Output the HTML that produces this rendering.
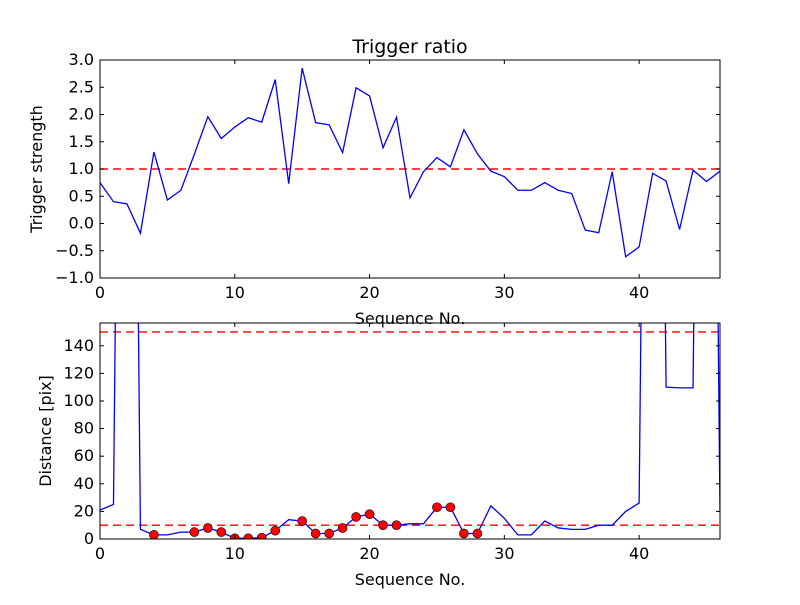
<!DOCTYPE html>
<html><head><meta charset="utf-8"><style>
body{margin:0;background:#fff}
svg text{font-family:"DejaVu Sans","Liberation Sans",sans-serif;font-size:16px;fill:#000}
</style></head><body>
<svg id="c" width="800" height="600" viewBox="0 0 800 600">
<rect width="800" height="600" fill="#fff"/>
</svg>
<script>
const topValues=[0.75,0.4,0.36,-0.18,1.31,0.43,0.61,1.27,1.96,1.56,1.77,1.94,1.86,2.64,0.73,2.85,1.85,1.81,1.3,2.49,2.34,1.39,1.95,0.47,0.95,1.21,1.04,1.72,1.28,0.96,0.86,0.61,0.61,0.75,0.61,0.55,-0.12,-0.17,0.95,-0.61,-0.43,0.92,0.78,-0.11,0.98,0.77,0.96];
const botValues=[21,25,1000,7,3,3,5,5,8,5,0.5,0.5,1,6,14,13,4,4,8,16,18,10,10,11,11,23,23,4,4,24,15,3,3,13,8,7,7,10,10,20,26,1000,110,109.5,109.5,1000,20];
const markerIdx=[4,7,8,9,10,11,12,13,15,16,17,18,19,20,21,22,25,26,27,28];
const topTicks=[-1.0,-0.5,0.0,0.5,1.0,1.5,2.0,2.5,3.0];
const botTicks=[0,20,40,60,80,100,120,140];
const xTicks=[0,10,20,30,40];
const topThreshold=[1.0];
const botThresholds=[10,150];
const NS="http://www.w3.org/2000/svg";
const svg=document.getElementById('c');
const L=100,R=720;
const xs=v=>L+(v-0)/46*(R-L);
function el(t,a){const e=document.createElementNS(NS,t);for(const k in a)e.setAttribute(k,a[k]);svg.appendChild(e);return e;}
function panel(name,T,B,ymin,ymax,ticks,fmt,vals,thr,ylabel,title,ylx){
  const ys=v=>B-(v-ymin)/(ymax-ymin)*(B-T);
  const cp=el('clipPath',{id:'cp'+name});
  const r=document.createElementNS(NS,'rect');r.setAttribute('x',L);r.setAttribute('y',T);r.setAttribute('width',R-L);r.setAttribute('height',B-T);cp.appendChild(r);
  const g=el('g',{'clip-path':'url(#cp'+name+')'});
  
  
  thr.forEach(t=>{const l=document.createElementNS(NS,'line');l.setAttribute('x1',L);l.setAttribute('x2',R);l.setAttribute('y1',ys(t));l.setAttribute('y2',ys(t));l.setAttribute('stroke','#ff0000');l.setAttribute('stroke-dasharray','8,5');l.setAttribute('stroke-width','1.4');
    
    
    g.appendChild(l);});
  const p=document.createElementNS(NS,'polyline');
  p.setAttribute('points',vals.map((v,i)=>xs(i)+','+ys(v)).join(' '));
  p.setAttribute('fill','none');p.setAttribute('stroke','#0000ff');p.setAttribute('stroke-width','1.3');
  
  
  g.appendChild(p);
  if(name==='distance'){markerIdx.forEach(i=>{const c=document.createElementNS(NS,'circle');c.setAttribute('cx',xs(i));c.setAttribute('cy',ys(vals[i]));c.setAttribute('r',4.5);c.setAttribute('fill','#ff0000');c.setAttribute('stroke','#000');c.setAttribute('stroke-width','0.6');
    
    
    g.appendChild(c);});}
  const fr=el('rect',{x:L,y:T,width:R-L,height:B-T,fill:'none',stroke:'#000','stroke-width':1});
  
  
  ticks.forEach(t=>{const y=ys(t);
    el('line',{x1:L,x2:L+4,y1:y,y2:y,stroke:'#000'});el('line',{x1:R-4,x2:R,y1:y,y2:y,stroke:'#000'});
    const tx=el('text',{x:L-6,y:y+5,'text-anchor':'end'});tx.textContent=fmt(t);
    
    });
  xTicks.forEach(t=>{const x=xs(t);
    el('line',{x1:x,x2:x,y1:B,y2:B-4,stroke:'#000'});el('line',{x1:x,x2:x,y1:T,y2:T+4,stroke:'#000'});
    const tx=el('text',{x:x,y:B+20,'text-anchor':'middle'});tx.textContent=t;
    
    });
  const xl=el('text',{x:(L+R)/2,y:B+46,'text-anchor':'middle'});xl.textContent='Sequence No.';
  
  
  const yl=el('text',{x:0,y:0,'text-anchor':'middle',transform:'translate('+ylx+','+((T+B)/2)+') rotate(-90)'});yl.textContent=ylabel;
  
  
  if(title){const tt=el('text',{x:(L+R)/2,y:T-7,'text-anchor':'middle'});tt.style.fontSize='19px';tt.textContent=title;
    
    }
}
panel('trigger',60,278,-1,3,topTicks,t=>t.toFixed(1).replace('-','\u2212'),topValues,topThreshold,'Trigger strength','Trigger ratio',42);
panel('distance',323,539,0,156.5,botTicks,t=>String(t),botValues,botThresholds,'Distance [pix]',null,51);
</script>
</body></html>
